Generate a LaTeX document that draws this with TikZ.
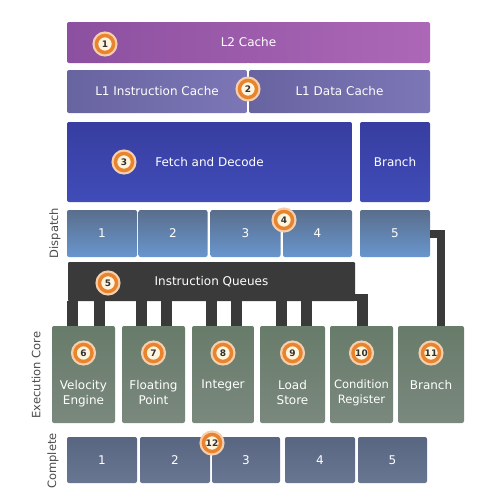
\documentclass[tikz,border=0pt]{standalone}
\usepackage{fontspec}
\setmainfont{DejaVu Sans}
\usetikzlibrary{calc}
\definecolor{cream}{HTML}{FFF4DE}
\definecolor{badgeor}{HTML}{E8842E}
\definecolor{qdark}{HTML}{3A3A3A}
\definecolor{ltwoL}{RGB}{140,80,160}
\definecolor{ltwoR}{RGB}{172,104,182}
\definecolor{loneL}{RGB}{104,100,160}
\definecolor{loneR}{RGB}{124,118,182}
\definecolor{fdT}{RGB}{56,62,160}
\definecolor{fdB}{RGB}{64,76,184}
\definecolor{dspT}{RGB}{90,110,140}
\definecolor{dspB}{RGB}{104,150,206}
\definecolor{exT}{RGB}{104,124,106}
\definecolor{exB}{RGB}{122,136,126}
\definecolor{cpT}{RGB}{88,102,130}
\definecolor{cpB}{RGB}{104,118,146}
\definecolor{numtxt}{RGB}{50,50,50}
\definecolor{sidetxt}{RGB}{75,75,75}
\tikzset{
  blk/.style={rectangle, rounded corners=2pt, inner sep=0pt, text=white, font=\fontsize{12}{15}\selectfont, align=center},
  l2blk/.style={blk, left color=ltwoL, right color=ltwoR},
  l1blk/.style={blk, left color=loneL, right color=loneR},
  fdblk/.style={blk, top color=fdT, bottom color=fdB},
  dspblk/.style={blk, top color=dspT, bottom color=dspB},
  exblk/.style={blk, top color=exT, bottom color=exB},
  cpblk/.style={blk, top color=cpT, bottom color=cpB},
  qblk/.style={blk, fill=qdark, rounded corners=1pt},
  badge/.style={circle, fill=cream, draw=badgeor, line width=3.5pt, minimum size=17pt, inner sep=0pt,
    text=numtxt, font=\fontsize{9}{9}\selectfont\bfseries,
    preaction={draw=badgeor!40, line width=8pt}},
  side/.style={rotate=90, text=sidetxt, font=\fontsize{11.5}{13}\selectfont},
  wline/.style={draw=white, line width=1.6pt},
}
\begin{document}
\begin{tikzpicture}[x=1pt,y=-1pt]
\useasboundingbox (0,0) rectangle (478,491);
\fill[white] (0,0) rectangle (478,491);
% caches
\node[l2blk, minimum width=363pt, minimum height=41pt] (l2) at (248.5,42.5) {L2 Cache};
\node[l1blk, minimum width=180pt, minimum height=43pt] (l1i) at (157,91.5) {L1 Instruction Cache};
\node[l1blk, minimum width=181pt, minimum height=43pt] (l1d) at (339.5,91.5) {L1 Data Cache};
% fetch / branch
\node[fdblk, minimum width=285pt, minimum height=80pt] (fd) at (209.5,162) {Fetch and Decode};
\node[fdblk, minimum width=70pt, minimum height=80pt] (br) at (395,162) {Branch};
% dispatch
\node[dspblk, minimum width=70pt, minimum height=47pt] (d1) at (102,233.5) {1};
\node[dspblk, minimum width=69pt, minimum height=47pt] (d2) at (173,233.5) {2};
\node[dspblk, minimum width=70pt, minimum height=47pt] (d3) at (245.5,233.5) {3};
\node[dspblk, minimum width=69pt, minimum height=47pt] (d4) at (317.5,233.5) {4};
\node[dspblk, minimum width=70pt, minimum height=47pt] (d5) at (395,233.5) {5};
% instruction queues
\node[qblk, minimum width=287pt, minimum height=39pt] (iq) at (211.5,281.5) {Instruction Queues};
\fill[qdark] (351,294) rectangle (368,301);
% execution units
\node[exblk, minimum width=63pt, minimum height=97pt] (u6) at (83.5,374.5) {};
\node[exblk, minimum width=63pt, minimum height=97pt] (u7) at (153.5,374.5) {};
\node[exblk, minimum width=62pt, minimum height=97pt] (u8) at (223,374.5) {};
\node[exblk, minimum width=65pt, minimum height=97pt] (u9) at (292.5,374.5) {};
\node[exblk, minimum width=63pt, minimum height=97pt] (u10) at (361.5,374.5) {};
\node[exblk, minimum width=66pt, minimum height=97pt] (u11) at (431,374.5) {};
\node[blk, anchor=north] (u6t) at (83.5,380) {Velocity\\Engine};
\node[blk, anchor=north] (u7t) at (153.5,380) {Floating\\Point};
\node[blk, anchor=north] (u8t) at (223,380) {Integer};
\node[blk, anchor=north] (u9t) at (292.5,380) {Load\\Store};
\node[blk, anchor=north, font=\fontsize{11.5}{15}\selectfont] (u10t) at (361.5,380) {Condition\\Register};
\node[blk, anchor=north] (u11t) at (431,380) {Branch};
% completion
\node[cpblk, minimum width=70pt, minimum height=46pt] (c1) at (102,460) {1};
\node[cpblk, minimum width=70pt, minimum height=46pt] (c2) at (175,460) {2};
\node[cpblk, minimum width=68pt, minimum height=46pt] (c3) at (246,460) {3};
\node[cpblk, minimum width=70pt, minimum height=46pt] (c4) at (320,460) {4};
\node[cpblk, minimum width=69pt, minimum height=46pt] (c5) at (392.5,460) {5};
% connectors: queues to units
\foreach \x/\u in {72.5/u6, 99/u6, 141/u7, 166/u7, 211/u8, 236/u8, 281/u9, 306.5/u9, 362.5/u10}{
  \draw[draw=qdark, line width=11pt] (\x,0 |- iq.south) -- (\x,0 |- \u.north);
}
% dispatch 5 to branch unit
\draw[draw=qdark, line width=8pt] (d5.east) -- (441,0 |- d5.east) -- (441,0 |- u11.north);
% white link lines
\draw[wline] (248,0 |- l2.south) -- (248,0 |- fd.north);
\draw[wline] (282,220) -- (282,0 |- d4.south);
\draw[wline] (211.5,443) -- (211.5,0 |- c2.south);
% badges
\node[badge] (b1) at (105,44) {1};
\node[badge] (b2) at (248,89) {2};
\node[badge] (b3) at (124,162) {3};
\node[badge] (b4) at (284,220) {4};
\node[badge] (b5) at (108,283) {5};
\node[badge] (b6) at (83.5,353) {6};
\node[badge] (b7) at (153.5,353) {7};
\node[badge] (b8) at (223,353) {8};
\node[badge] (b9) at (292.5,353) {9};
\node[badge] (b10) at (361.5,353) {10};
\node[badge] (b11) at (431,353) {11};
\node[badge] (b12) at (212,443) {12};
% side labels
\node[side] (sd) at (55,233) {Dispatch};
\node[side] (se) at (36,375) {Execution Core};
\node[side] (sc) at (53,461) {Complete};
\end{tikzpicture}
\end{document}
